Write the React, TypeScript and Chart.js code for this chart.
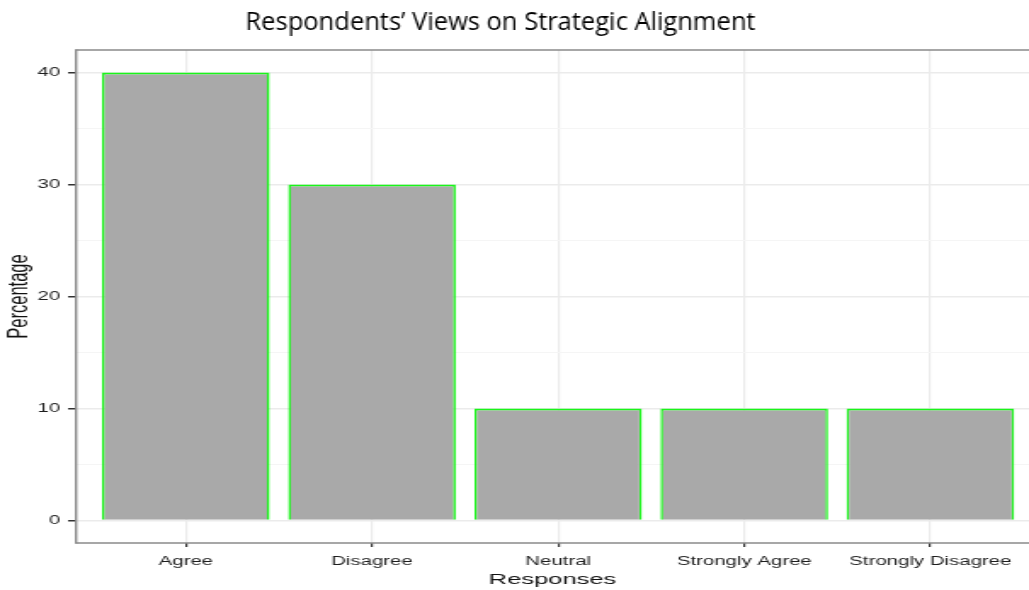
import React, { useEffect, useRef } from "react";
import { Chart, registerables } from "chart.js";

Chart.register(...registerables);

const chartTitle = "Respondents\u2019 Views on Strategic Alignment";
const categories: string[] = ["Agree", "Disagree", "Neutral", "Strongly Agree", "Strongly Disagree"];
const percentages: number[] = [40, 30, 10, 10, 10];
const yTickValues: number[] = [0, 5, 10, 15, 20, 25, 30, 35, 40];

// the reference plot is stretched horizontally; draw on a narrower canvas and stretch it
const VIEW_W = 1029;
const VIEW_H = 590;
const CANVAS_W = 605;
const SX = VIEW_W / CANVAS_W;

const panelBorder = {
  id: "panelBorder",
  afterDraw(chart: any) {
    const { ctx, chartArea } = chart;
    ctx.save();
    ctx.strokeStyle = "#8a8a8a";
    ctx.lineWidth = 1.6;
    ctx.beginPath();
    ctx.moveTo(chartArea.left, chartArea.top);
    ctx.lineTo(chartArea.right + 2, chartArea.top);
    ctx.moveTo(chartArea.left, chartArea.bottom);
    ctx.lineTo(chartArea.right + 2, chartArea.bottom);
    ctx.stroke();
    ctx.lineWidth = 1.4;
    ctx.beginPath();
    ctx.moveTo(chartArea.left, chartArea.top - 0.8);
    ctx.lineTo(chartArea.left, chartArea.bottom + 0.8);
    ctx.stroke();
    ctx.restore();
  },
};

const unstretchedTitle = {
  id: "unstretchedTitle",
  afterDraw(chart: any) {
    const { ctx } = chart;
    ctx.save();
    ctx.scale(1 / SX, 1);
    ctx.fillStyle = "#000";
    ctx.font = "25.5px 'Open Sans', sans-serif";
    ctx.textAlign = "center";
    ctx.textBaseline = "alphabetic";
    ctx.fillText(chartTitle, 500.5, 30);
    ctx.restore();
  },
};

export default function App() {
  const ref = useRef<HTMLCanvasElement | null>(null);
  useEffect(() => {
    if (!ref.current) return;
    const chart = new Chart(ref.current, {
      type: "bar",
      data: {
        datasets: [
          {
            data: percentages.map((v, i) => ({ x: i, y: v })),
            backgroundColor: "#a9a9a9",
            borderColor: "#19f519",
            borderWidth: { left: 1.5, right: 1.5, top: 2, bottom: 2 } as any,
            barPercentage: 0.9,
            categoryPercentage: 1,
          },
        ],
      },
      options: {
        animation: false,
        responsive: false,
        maintainAspectRatio: false,
        devicePixelRatio: 1,
        layout: { padding: { left: 0, right: 0, top: 50, bottom: 0 } },
        plugins: {
          legend: { display: false },
          tooltip: { enabled: false },
          title: { display: false },
        },
        scales: {
          x: {
            type: "linear",
            offset: false,
            min: -0.59,
            max: 4.53,
            afterBuildTicks: (scale: any) => {
              scale.ticks = categories.map((_, i) => ({ value: i }));
            },
            afterFit: (scale: any) => {
              scale.height = 47;
            },
            ticks: {
              autoSkip: false,
              maxRotation: 0,
              minRotation: 0,
              padding: 7.5,
              color: "#1e1e1e",
              font: { family: "'Liberation Sans', Arial, sans-serif", size: 12 },
              callback: (v: any) => categories[Math.round(Number(v))] ?? "",
            },
            grid: {
              offset: false,
              color: "#ebebeb",
              lineWidth: 1.2,
              tickColor: "#333",
              tickLength: 4,
              tickWidth: 1.2,
            },
            border: { display: false },
            title: {
              display: true,
              text: "Responses",
              color: "#111",
              font: { family: "'Liberation Sans', Arial, sans-serif", size: 15 },
              padding: { top: 0, bottom: 1.5 },
            },
          },
          y: {
            min: -2,
            max: 42,
            afterBuildTicks: (scale: any) => {
              scale.ticks = yTickValues.map((v) => ({ value: v }));
            },
            afterFit: (scale: any) => {
              scale.width = 44.7;
            },
            ticks: {
              padding: 4.7,
              color: "#1e1e1e",
              font: { family: "'Liberation Sans', Arial, sans-serif", size: 12 },
              callback: (v: any) => (Number(v) % 10 === 0 ? String(v) : ""),
            },
            grid: {
              color: (c: any) => (c.tick && c.tick.value % 10 === 0 ? "#ebebeb" : "#f5f5f5"),
              lineWidth: (c: any) => (c.tick && c.tick.value % 10 === 0 ? 1.5 : 1),
              tickColor: (c: any) => (c.tick && c.tick.value % 10 === 0 ? "#333" : "rgba(0,0,0,0)"),
              tickLength: 4.7,
              tickWidth: 1.5,
            },
            border: { display: false },
            title: {
              display: true,
              text: "Percentage",
              color: "#111",
              font: { family: "'Liberation Sans', Arial, sans-serif", size: 16.5 },
              padding: { top: 1.4, bottom: 0 },
            },
          },
        },
      },
      plugins: [panelBorder, unstretchedTitle],
    });
    return () => chart.destroy();
  }, []);

  return (
    <div style={{ position: "fixed", left: 0, top: 0, width: VIEW_W, height: VIEW_H, background: "#fff", overflow: "hidden" }}>
      <canvas
        ref={ref}
        width={CANVAS_W}
        height={VIEW_H}
        style={{ width: VIEW_W + "px", height: VIEW_H + "px", display: "block" }}
      />
    </div>
  );
}
